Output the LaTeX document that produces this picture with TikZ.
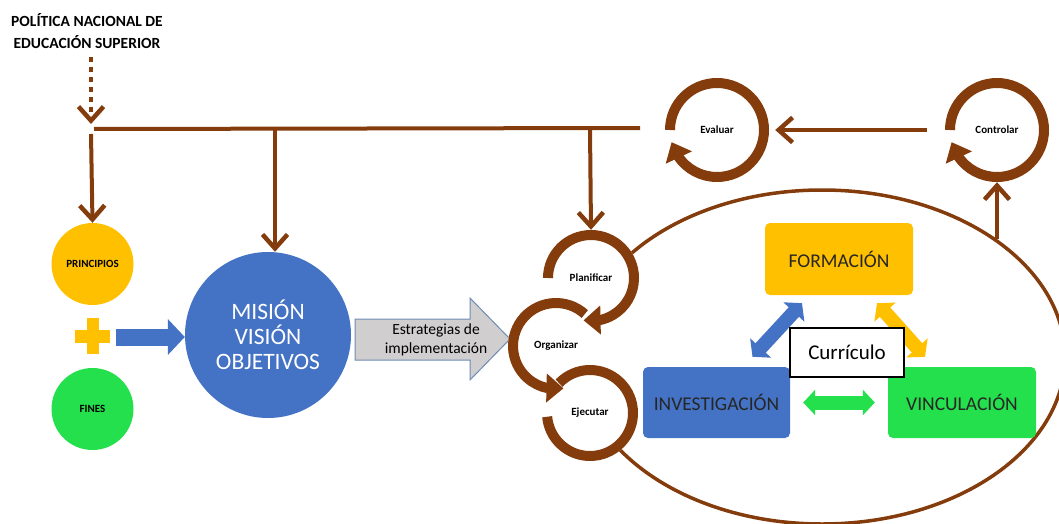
\documentclass[tikz,border=0pt]{standalone}
\usepackage{fontspec}
\setmainfont{Carlito}
\usetikzlibrary{arrows.meta,bending,calc}
\definecolor{brn}{RGB}{132,60,12}
\definecolor{gold}{RGB}{255,192,0}
\definecolor{blu}{RGB}{68,114,196}
\definecolor{grn}{RGB}{36,224,76}
\definecolor{gryfill}{RGB}{208,206,206}
\definecolor{gryedge}{RGB}{110,140,180}
\tikzset{
  conn/.style={draw=brn, line width=4pt, -{Straight Barb[length=14pt,width=25pt,line width=4.5pt]}},
  dotconn/.style={conn, dash pattern=on 5pt off 5pt},
  ring/.style={draw=brn, line width=10pt},
  ringtip/.style={ring, -{Triangle[length=17pt,width=28pt]}},
  cyc/.style={circle, fill=white, inner sep=0pt, font=\bfseries\fontsize{11}{13}\selectfont},
  disc/.style={circle, inner sep=0pt, minimum size=82pt, font=\bfseries\fontsize{11}{13}\selectfont},
  box/.style={rounded corners=5pt, inner sep=0pt, text=black!85, font=\fontsize{19.5}{22}\selectfont},
  dbl/.style={line width=#1, {Triangle[length=12pt,width=28pt]}-{Triangle[length=12pt,width=28pt]}},
}
\begin{document}
\begin{tikzpicture}[x=1pt,y=1pt]
\useasboundingbox (0,0) rectangle (1059,-524);
% big ellipse
\draw[brn, line width=3.5pt] (822,-357) ellipse [x radius=243, y radius=167];
% title
\node[align=center, font=\bfseries\fontsize{15.5}{22}\selectfont] (title) at (87,-31) {POLÍTICA NACIONAL DE\\EDUCACIÓN SUPERIOR};
% junction coordinates
\coordinate (j0) at (91,-124);
\coordinate (j1) at (91,-134);
\coordinate (jL) at (94,-129);
\coordinate (jR) at (640,-128);
\coordinate (j2) at (275,-129);
\coordinate (j3) at (590,-129);
% left circles
\node[disc, fill=gold] (prin) at (92.5,-264) {PRINCIPIOS};
\node[disc, fill=grn] (fin) at (92.5,-409) {FINES};
\fill[gold] (75,-330) rectangle (110,-343);
\fill[gold] (87,-318) rectangle (98.5,-354);
\coordinate (ba) at (116,-337);
\node[circle, fill=blu, minimum size=166pt, inner sep=0pt, text=white, align=center, font=\fontsize{23.5}{25}\selectfont] (mis) at (268,-335) {MISIÓN\\VISIÓN\\OBJETIVOS};
\draw[blu, line width=17pt, -{Triangle[length=17pt,width=35pt]}] (ba) -- (mis.west |- ba);
% gray block arrow
\draw[draw=gryedge, fill=gryfill, line width=1pt] (355,-319) -- (470,-319) -- (470,-298) -- (510,-339) -- (470,-380) -- (470,-360) -- (355,-360) -- cycle;
\node[align=center, font=\fontsize{15.5}{19}\selectfont] (estr) at (436,-340) {Estrategias de\\implementación};
% cycle nodes
\node[cyc, minimum size=96pt] (pl) at (591,-278) {Planificar};
\node[cyc, minimum size=96pt] (ol) at (556,-346) {Organizar};
\node[cyc, minimum size=96pt] (ej) at (590,-413) {Ejecutar};
\node[cyc, minimum size=104pt] (ev) at (717,-130) {Evaluar};
\node[cyc, minimum size=104pt] (ctl) at (997,-130) {Controlar};
\draw[ringtip] ($(pl.center)+(180:43)$) arc[start angle=180,end angle=-100,radius=43];
\draw[ringtip] ($(ol.center)+(48:43)$) arc[start angle=48,end angle=280,radius=43];
\draw[ring] ($(ej.center)+(136:43)$) arc[start angle=136,end angle=-175,radius=43];
\draw[ringtip] ($(ev.center)+(180:47)$) arc[start angle=180,end angle=-165,radius=47];
\draw[ringtip] ($(ctl.center)+(180:47)$) arc[start angle=180,end angle=-165,radius=47];
% connectors
\draw[dotconn] (j0 |- title.south) ++(0,-5) -- (j0);
\draw[brn, line width=4pt] (jL) -- (jR);
\draw[conn] (j1) -- (prin.north);
\draw[conn] (j2) -- (j2 |- mis.north);
\draw[conn] (j3) -- (pl.north);
\draw[conn] ([xshift=-18pt]ctl.west) -- ([xshift=6pt]ev.east);
\coordinate (eT) at (997,-239);
\draw[conn] (eT) -- (ctl.south);
% boxes
\node[box, fill=gold, minimum width=148pt, minimum height=72pt] (form) at (839,-259) {FORMACIÓN};
\node[box, fill=blu, minimum width=147pt, minimum height=71pt] (inv) at (716.5,-402.5) {INVESTIGACIÓN};
\node[box, fill=grn, minimum width=148pt, minimum height=71pt] (vin) at (962,-402.5) {VINCULACIÓN};
\draw[blu, dbl=14pt] ($(inv.north)+(36,10)$) -- ($(form.south)+(-37,-8)$);
\draw[gold, dbl=14pt] ($(form.south)+(38,-8)$) -- ($(vin.north)+(-37,10)$);
\draw[grn, line width=14pt, {Triangle[length=12pt,width=25pt]}-{Triangle[length=12pt,width=25pt]}] ($(inv.east)+(13,0)$) -- ($(vin.west)+(-13,0)$);
\node[draw=black, line width=1.2pt, fill=white, minimum width=114pt, minimum height=49pt, inner sep=0pt, font=\fontsize{21}{24}\selectfont] (cur) at (847,-352.5) {Currículo};
\end{tikzpicture}
\end{document}
